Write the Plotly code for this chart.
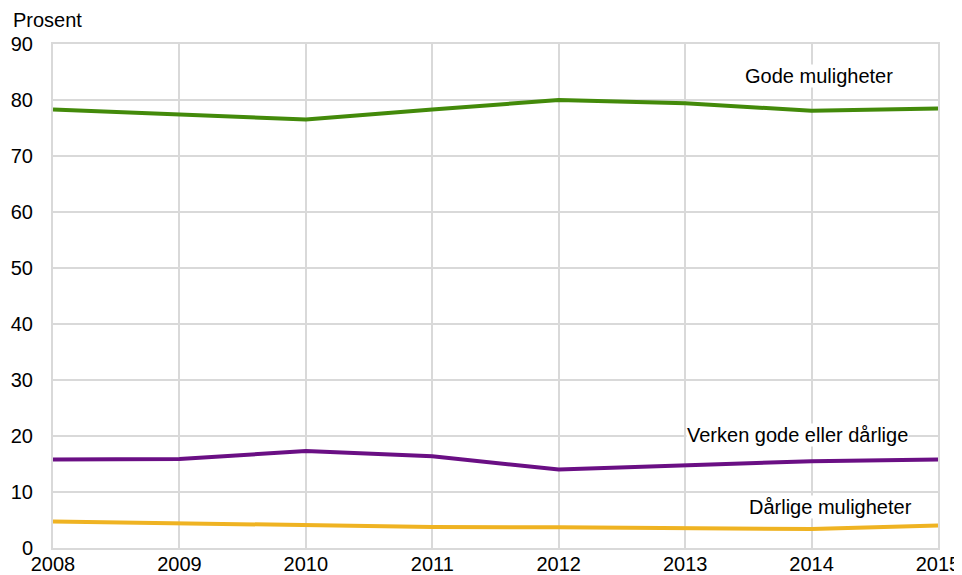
import plotly.graph_objects as go

# data
years = [2008, 2009, 2010, 2011, 2012, 2013, 2014, 2015]
gode = [78.3, 77.4, 76.5, 78.3, 80.0, 79.4, 78.1, 78.5]
verken = [15.8, 15.9, 17.3, 16.4, 14.0, 14.7, 15.5, 15.8]
darlige = [4.75, 4.45, 4.15, 3.75, 3.7, 3.55, 3.4, 4.0]

series = [
    ("Gode muligheter", gode, "#438a0a", 2014.06, 84.2),
    ("Verken gode eller dårlige", verken, "#6a0f84", 2013.89, 20.2),
    ("Dårlige muligheter", darlige, "#efb322", 2014.15, 7.4),
]

font_family = "Liberation Sans, Arial, sans-serif"
grid = "#d9d9d9"

fig = go.Figure()

for name, vals, color, lx, ly in series:
    fig.add_trace(go.Scatter(
        x=years, y=vals, mode="lines", name=name,
        line=dict(color=color, width=4),
        showlegend=False,
    ))
    # etikett med hvit bakgrunn over rutenettet
    fig.add_annotation(
        x=lx, y=ly, text=name, showarrow=False,
        font=dict(size=20, color="#000000", family=font_family),
        bgcolor="white", borderpad=0,
    )

fig.add_annotation(
    x=-0.047, y=1.048, xref="paper", yref="paper",
    text="Prosent", showarrow=False,
    xanchor="left", yanchor="middle",
    font=dict(size=20, color="#000000", family=font_family),
)

# siden har 8 px kantmarg; marger er satt etter det
fig.update_layout(
    width=962, height=575,
    margin=dict(l=45, r=32, t=36, b=35),
    paper_bgcolor="white",
    plot_bgcolor="white",
    font=dict(family=font_family, size=20, color="#000000"),
    xaxis=dict(
        range=[2008, 2015], tickmode="array", tickvals=years,
        showgrid=True, gridcolor=grid, gridwidth=2,
        showline=True, linecolor=grid, linewidth=2, mirror=True,
        zeroline=False, ticks="", tickfont=dict(size=20),
        ticklabelstandoff=-3, automargin=False,
    ),
    yaxis=dict(
        range=[0, 90], tickmode="linear", dtick=10, tick0=0,
        showgrid=True, gridcolor=grid, gridwidth=2,
        showline=True, linecolor=grid, linewidth=2, mirror=True,
        zeroline=False, ticks="", tickfont=dict(size=20),
        ticklabelstandoff=14, automargin=False,
    ),
)

fig.write_html("out.html")
